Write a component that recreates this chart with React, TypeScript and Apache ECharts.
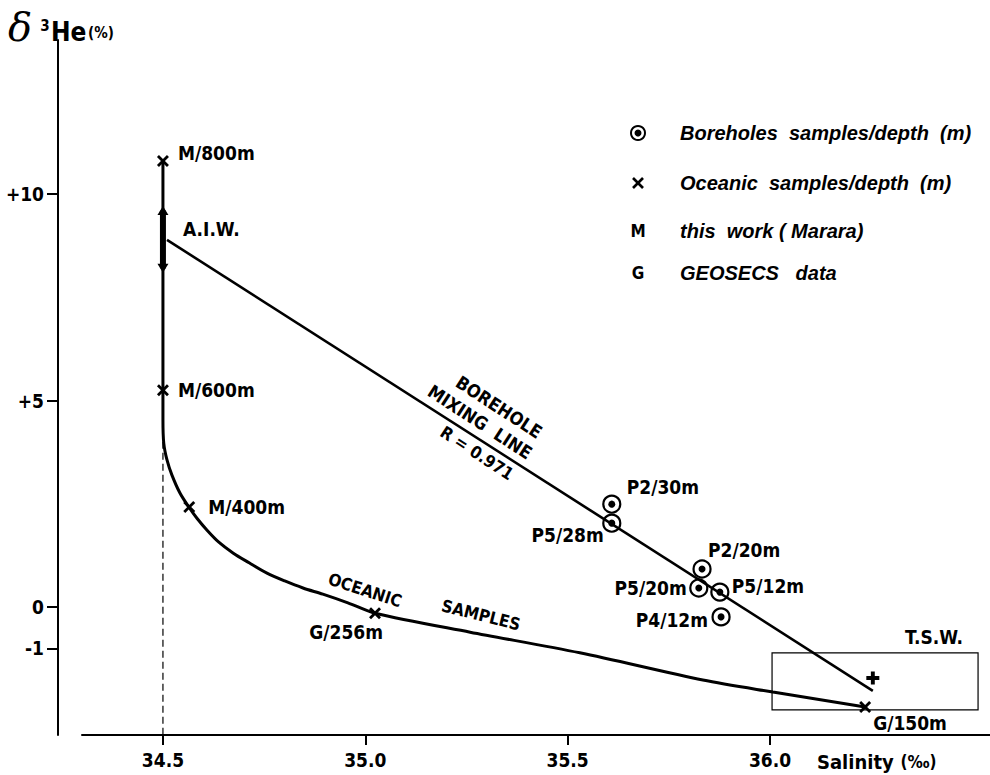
import React, { useEffect, useRef } from 'react';
import * as echarts from 'echarts';

// ---------- data ----------
const xTicks = [34.5, 35.0, 35.5, 36.0];
const yTicks = [-1, 0, 5, 10];

// oceanic samples (crosses)
const oceanicNames = ['M/800m', 'M/600m', 'M/400m', 'G/256m', 'G/150m'];
const oceanicSalinity = [34.5, 34.5, 34.565, 35.024, 36.235];
const oceanicHe = [10.8, 5.25, 2.42, -0.15, -2.42];

// oceanic samples curve (traced)
const curveSalinity = [34.5, 34.5, 34.5, 34.502, 34.51, 34.522, 34.542, 34.564, 34.584, 34.609, 34.638, 34.673, 34.713, 34.757, 34.801, 34.846, 34.895, 34.957, 35.024, 35.259, 35.53, 35.834, 36.007, 36.235];
const curveHe = [10.8, 5.25, 4.53, 3.97, 3.56, 3.2, 2.76, 2.42, 2.15, 1.86, 1.57, 1.31, 1.07, 0.82, 0.63, 0.46, 0.31, 0.1, -0.15, -0.61, -1.11, -1.77, -2.06, -2.42];

// borehole samples (circled dots)
const boreholeNames = ['P2/30m', 'P5/28m', 'P2/20m', 'P5/20m', 'P5/12m', 'P4/12m'];
const boreholeSalinity = [35.609, 35.609, 35.832, 35.824, 35.876, 35.879];
const boreholeHe = [2.49, 2.03, 0.92, 0.46, 0.36, -0.24];

// borehole mixing line (R = 0.971)
const mixingSalinity = [34.51, 36.254];
const mixingHe = [8.89, -2.03];

// A.I.W. range
const aiwSalinity = [34.5, 34.5];
const aiwHe = [9.6, 8.2];

// T.S.W. box and mean
const tswBoxSalinity = [36.005, 36.514];
const tswBoxHe = [-1.11, -2.49];
const tswMeanSalinity = [36.254];
const tswMeanHe = [-1.72];

// dashed guide at 34.5
const guideSalinity = [34.5, 34.5];
const guideHe = [4.0, -3.1];

// ---------- layout (label placement) ----------
const oceanicLabelLayout = [
  { align: 'left', offset: [15, -8] },
  { align: 'left', offset: [15, 0] },
  { align: 'left', offset: [19, 0] },
  { align: 'right', offset: [8, 19] },
  { align: 'left', offset: [8, 16] },
];
const boreholeLabelLayout = [
  { align: 'left', offset: [15, -17] },
  { align: 'right', offset: [-8, 12] },
  { align: 'left', offset: [6, -19] },
  { align: 'right', offset: [-12, 0] },
  { align: 'left', offset: [12, -6] },
  { align: 'right', offset: [-13, 3] },
];

const INK = '#000';
const NARROW = "'DejaVu Sans Condensed', 'Liberation Sans Narrow', sans-serif";
const SANS = "'Liberation Sans', 'DejaVu Sans', Arial, sans-serif";
const CROSS = 'path://M0,2L2,0L6,4L10,0L12,2L8,6L12,10L10,12L6,8L2,12L0,10L4,6Z';
const PLUS = 'path://M3.5,0H6.5V3.5H10V6.5H6.5V10H3.5V6.5H0V3.5H3.5Z';

export default function App() {
  const ref = useRef<HTMLDivElement>(null);

  useEffect(() => {
    if (!ref.current) return;
    const chart = echarts.init(ref.current, null, { renderer: 'svg' });

    const labelFont = {
      fontSize: 19,
      fontWeight: 'bold',
      fontFamily: NARROW,
      color: INK,
      opacity: 1,
      textBorderWidth: 0,
      textBorderColor: 'transparent',
    };
    const rot = (deg: number) => (-deg * Math.PI) / 180;
    const annot = (text: string, x: number, y: number, deg: number, size = 16) => ({
      type: 'text',
      x,
      y,
      rotation: rot(deg),
      style: {
        text,
        fill: INK,
        fontSize: size,
        fontWeight: 'bold',
        fontFamily: NARROW,
        align: 'center',
        verticalAlign: 'middle',
      },
    });
    const legendText = (text: string, y: number) => ({
      type: 'text',
      x: 680,
      y,
      style: {
        text,
        fill: INK,
        fontSize: 20,
        fontWeight: 'bold',
        fontStyle: 'italic',
        fontFamily: SANS,
        align: 'left',
        verticalAlign: 'middle',
      },
    });

    const option: any = {
      animation: false,
      backgroundColor: '#fff',
      grid: { left: 82, right: 0, top: 40, bottom: 40, containLabel: false },
      xAxis: {
        type: 'value',
        min: 34.3,
        max: 36.5435,
        splitLine: { show: false },
        axisLine: { show: true, onZero: false, lineStyle: { color: INK, width: 2 } },
        axisTick: { show: true, customValues: xTicks, length: 10, lineStyle: { color: INK, width: 2 } },
        axisLabel: {
          customValues: xTicks,
          formatter: (v: number) => v.toFixed(1),
          margin: 15,
          fontSize: 19,
          fontWeight: 'bold',
          fontFamily: NARROW,
          color: INK,
        },
      },
      yAxis: {
        type: 'value',
        min: -3.1,
        max: 13.73,
        offset: 24,
        splitLine: { show: false },
        axisLine: { show: true, onZero: false, lineStyle: { color: INK, width: 2 } },
        axisTick: { show: true, customValues: yTicks, length: 11, lineStyle: { color: INK, width: 2 } },
        axisLabel: {
          customValues: yTicks,
          formatter: (v: number) => (v > 0 ? '+' + v : String(v)),
          margin: 14,
          fontSize: 19,
          fontWeight: 'bold',
          fontFamily: NARROW,
          color: INK,
        },
      },
      series: [
        {
          name: 'Oceanic curve',
          type: 'line',
          data: curveSalinity.map((s, i) => [s, curveHe[i]]),
          smooth: 0.3,
          showSymbol: false,
          lineStyle: { color: INK, width: 3 },
          z: 2,
        },
        {
          name: 'Guide',
          type: 'line',
          data: guideSalinity.map((s, i) => [s, guideHe[i]]),
          showSymbol: false,
          lineStyle: { color: INK, width: 1.2, type: [7, 4] },
          z: 1,
        },
        {
          name: 'A.I.W.',
          type: 'line',
          data: aiwSalinity.map((s, i) => ({
            value: [s, aiwHe[i]],
            symbol: 'triangle',
            symbolSize: [11, 9],
            symbolRotate: i === 0 ? 0 : 180,
            label:
              i === 0
                ? { show: true, formatter: 'A.I.W.', position: 'inside', align: 'left', offset: [20, 18], ...labelFont }
                : { show: false },
          })),
          showSymbol: true,
          itemStyle: { color: INK, opacity: 1 },
          lineStyle: { color: INK, width: 6 },
          z: 3,
        },
        {
          name: 'Borehole mixing line',
          type: 'line',
          data: mixingSalinity.map((s, i) => [s, mixingHe[i]]),
          showSymbol: false,
          lineStyle: { color: INK, width: 2.6 },
          z: 2,
          markArea: {
            silent: true,
            itemStyle: { color: 'rgba(0,0,0,0)', borderColor: INK, borderWidth: 1.2 },
            label: { show: true, position: 'top', offset: [59, 0], distance: 6, ...labelFont },
            data: [
              [
                { name: 'T.S.W.', coord: [tswBoxSalinity[0], tswBoxHe[0]] },
                { coord: [tswBoxSalinity[1], tswBoxHe[1]] },
              ],
            ],
          },
        },
        {
          name: 'Oceanic samples/depth (m)',
          type: 'scatter',
          symbol: CROSS,
          symbolSize: 12,
          itemStyle: { color: INK, opacity: 1 },
          data: oceanicSalinity.map((s, i) => ({
            value: [s, oceanicHe[i]],
            name: oceanicNames[i],
            label: { align: oceanicLabelLayout[i].align, offset: oceanicLabelLayout[i].offset },
          })),
          label: { show: true, position: 'inside', formatter: '{b}', verticalAlign: 'middle', ...labelFont },
          z: 4,
        },
        {
          name: 'Boreholes samples/depth (m)',
          type: 'scatter',
          symbol: 'circle',
          symbolSize: 17,
          itemStyle: { color: 'rgba(0,0,0,0)', borderColor: INK, borderWidth: 2.2, opacity: 1 },
          data: boreholeSalinity.map((s, i) => ({
            value: [s, boreholeHe[i]],
            name: boreholeNames[i],
            label: { align: boreholeLabelLayout[i].align, offset: boreholeLabelLayout[i].offset },
          })),
          label: { show: true, position: 'inside', formatter: '{b}', verticalAlign: 'middle', ...labelFont },
          z: 4,
        },
        {
          name: 'Borehole dots',
          type: 'scatter',
          symbol: 'circle',
          symbolSize: 7,
          itemStyle: { color: INK, opacity: 1 },
          data: boreholeSalinity.map((s, i) => [s, boreholeHe[i]]),
          z: 5,
        },
        {
          name: 'T.S.W. mean',
          type: 'scatter',
          symbol: PLUS,
          symbolSize: 13,
          itemStyle: { color: INK, opacity: 1 },
          data: tswMeanSalinity.map((s, i) => [s, tswMeanHe[i]]),
          z: 5,
        },
      ],
      graphic: [
        // y-axis title
        { type: 'text', x: 8, y: 27, style: { text: 'δ', fill: INK, fontSize: 40, fontStyle: 'italic', fontFamily: "'DejaVu Serif', serif", align: 'left', verticalAlign: 'middle' } },
        { type: 'text', x: 45, y: 26, style: { text: '3', fill: INK, fontSize: 15, fontWeight: 'bold', fontFamily: NARROW, align: 'center', verticalAlign: 'middle' } },
        { type: 'text', x: 51, y: 32, style: { text: 'He', fill: INK, fontSize: 26, fontWeight: 'bold', fontFamily: NARROW, align: 'left', verticalAlign: 'middle' } },
        { type: 'text', x: 88, y: 33, style: { text: '(%)', fill: INK, fontSize: 15, fontWeight: 'bold', fontFamily: NARROW, align: 'left', verticalAlign: 'middle' } },
        // x-axis title
        {
          type: 'text',
          x: 817,
          y: 762,
          style: {
            text: '{a|Salinity}  {b|(‰)}',
            align: 'left',
            verticalAlign: 'middle',
            rich: {
              a: { fontSize: 20, fontWeight: 'bold', fontFamily: NARROW, fill: INK, color: INK },
              b: { fontSize: 17, fontWeight: 'bold', fontFamily: NARROW, fill: INK, color: INK },
            },
          },
        },
        // line annotations
        annot('BOREHOLE', 499, 407, 33, 18),
        annot('MIXING  LINE', 480, 422, 33, 18),
        annot('R = 0.971', 477, 453, 33, 17),
        annot('OCEANIC', 365, 590, 18, 17),
        annot('SAMPLES', 481, 615, 14, 17),
        // legend
        { type: 'circle', shape: { cx: 638, cy: 133, r: 7 }, style: { fill: 'none', stroke: INK, lineWidth: 2 } },
        { type: 'circle', shape: { cx: 638, cy: 133, r: 3.5 }, style: { fill: INK } },
        { type: 'line', shape: { x1: 633, y1: 178, x2: 643, y2: 188 }, style: { stroke: INK, lineWidth: 2.6 } },
        { type: 'line', shape: { x1: 643, y1: 178, x2: 633, y2: 188 }, style: { stroke: INK, lineWidth: 2.6 } },
        { type: 'text', x: 638, y: 231, style: { text: 'M', fill: INK, fontSize: 17, fontWeight: 'bold', fontFamily: NARROW, align: 'center', verticalAlign: 'middle' } },
        { type: 'text', x: 638, y: 273, style: { text: 'G', fill: INK, fontSize: 17, fontWeight: 'bold', fontFamily: NARROW, align: 'center', verticalAlign: 'middle' } },
        legendText('Boreholes  samples/depth  (m)', 133),
        legendText('Oceanic  samples/depth  (m)', 183),
        legendText('this  work ( Marara)', 231),
        legendText('GEOSECS   data', 273),
      ],
    };

    chart.setOption(option);
    return () => chart.dispose();
  }, []);

  return (
    <div
      ref={ref}
      style={{ position: 'fixed', left: 0, top: 0, width: 990, height: 775, background: '#fff' }}
    />
  );
}
